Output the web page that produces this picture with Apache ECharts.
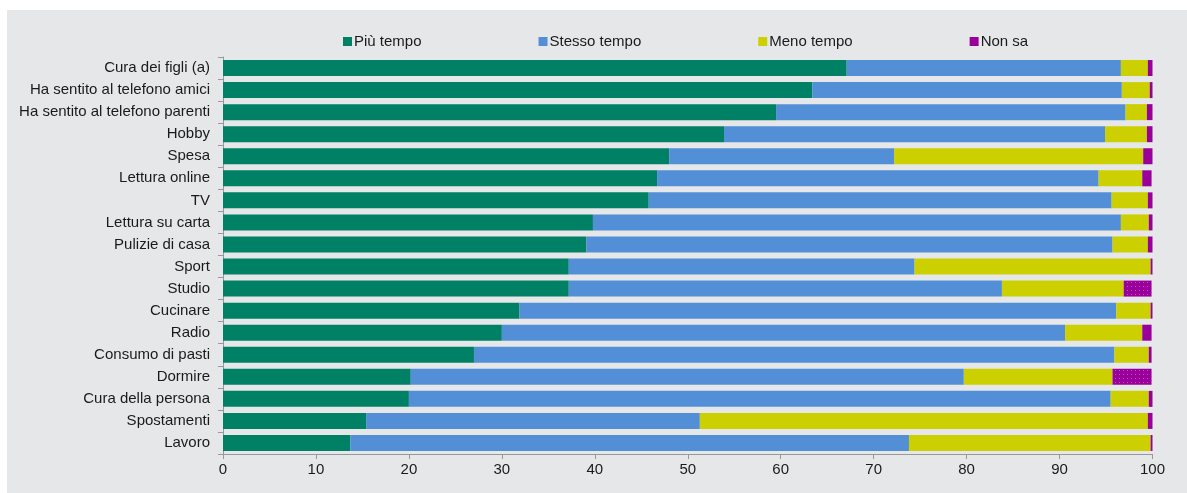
<!DOCTYPE html>
<html>
<head>
<meta charset="utf-8">
<script src="https://cdn.jsdelivr.net/npm/echarts@6/dist/echarts.min.js"></script>
<style>
  html, body { margin: 0; padding: 0; background: #ffffff; }
  #chart { position: absolute; left: 7px; top: 10px; width: 1180px; height: 483px; background: #e6e7e9; }
</style>
</head>
<body>
<div id="chart"></div>
<script>
// categorie (dall'alto verso il basso)
var categorie = ['Cura dei figli (a)', 'Ha sentito al telefono amici', 'Ha sentito al telefono parenti', 'Hobby',
  'Spesa', 'Lettura online', 'TV', 'Lettura su carta', 'Pulizie di casa', 'Sport', 'Studio', 'Cucinare',
  'Radio', 'Consumo di pasti', 'Dormire', 'Cura della persona', 'Spostamenti', 'Lavoro'];

var piuTempo    = [67.1, 63.4, 59.5, 53.9, 48.0, 46.7, 45.8, 39.8, 39.1, 37.2, 37.2, 31.9, 30.0, 27.0, 20.2, 20.0, 15.4, 13.7];
var stessoTempo = [29.5, 33.3, 37.6, 41.0, 24.2, 47.5, 49.8, 56.8, 56.6, 37.2, 46.6, 64.2, 60.6, 68.9, 59.5, 75.5, 35.9, 60.1];
var menoTempo   = [2.9, 3.0, 2.3, 4.5, 26.8, 4.7, 3.9, 3.0, 3.8, 25.4, 13.1, 3.7, 8.3, 3.7, 16.0, 4.1, 48.2, 26.0];
var nonSa       = [0.5, 0.3, 0.6, 0.6, 1.0, 1.0, 0.5, 0.4, 0.5, 0.2, 3.0, 0.2, 1.0, 0.3, 4.2, 0.4, 0.5, 0.2];

var xTicks = [0, 10, 20, 30, 40, 50, 60, 70, 80, 90, 100];

var font = 'Liberation Sans, Arial, sans-serif';

var chartObj = echarts.init(document.getElementById('chart'));

// Studio e Dormire hanno il riempimento a puntini
var decalPunti = {
  symbol: 'rect',
  symbolSize: 1,
  dashArrayX: [1, 3],
  dashArrayY: [1, 3],
  color: 'rgba(255,120,255,0.55)'
};
var nonSaData = nonSa.map(function (v, i) {
  var c = categorie[i];
  if (c === 'Studio' || c === 'Dormire') {
    return { value: v, itemStyle: { decal: decalPunti } };
  }
  return v;
});

function serie(nome, dati, colore) {
  return {
    name: nome,
    type: 'bar',
    stack: 'tot',
    barWidth: 16,
    data: dati,
    itemStyle: { color: colore },
    emphasis: { disabled: true }
  };
}

var option = {
  animation: false,
  textStyle: { fontFamily: font },
  legend: {
    left: 331,
    top: 19,
    icon: 'rect',
    itemWidth: 9,
    itemHeight: 9,
    itemGap: 117,
    textStyle: { fontFamily: font, fontSize: 15, color: '#1a1a1a', padding: [0, 0, 0, -3] },
    data: ['Più tempo', 'Stesso tempo', 'Meno tempo', 'Non sa']
  },
  grid: { left: 216, right: 34.5, top: 47, bottom: 39 },
  xAxis: {
    type: 'value',
    min: 0,
    max: 100,
    interval: 10,
    axisLine: { show: true, lineStyle: { color: '#999999' } },
    axisTick: { show: true, length: 5, lineStyle: { color: '#999999' } },
    splitLine: { show: false },
    axisLabel: {
      color: '#1a1a1a', fontSize: 15, fontFamily: font, margin: 8,
      formatter: function (v) { return xTicks.indexOf(v) >= 0 ? v : ''; }
    }
  },
  yAxis: {
    type: 'category',
    inverse: true,
    data: categorie,
    axisLine: { show: true, lineStyle: { color: '#999999' } },
    axisTick: { show: true, length: 5, lineStyle: { color: '#999999' } },
    axisLabel: { color: '#1a1a1a', fontSize: 15, fontFamily: font, margin: 13 }
  },
  series: [
    serie('Più tempo', piuTempo, '#008064'),
    serie('Stesso tempo', stessoTempo, '#538fd7'),
    serie('Meno tempo', menoTempo, '#cccf00'),
    serie('Non sa', nonSaData, '#990099')
  ]
};

chartObj.setOption(option);
</script>
</body>
</html>
